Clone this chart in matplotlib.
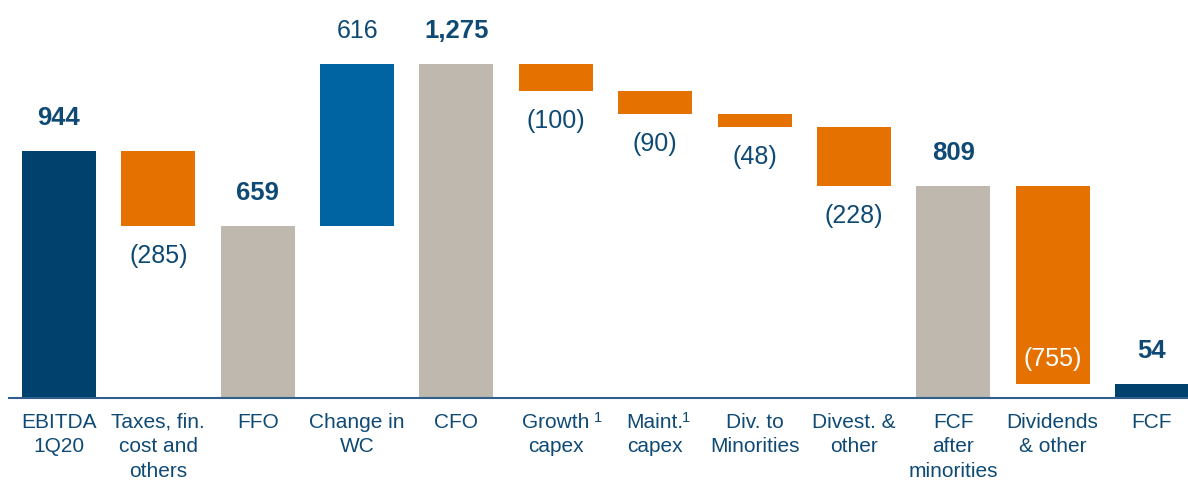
import matplotlib
matplotlib.use("Agg")
import matplotlib.pyplot as plt

categories = ["EBITDA\n1Q20", "Taxes, fin.\ncost and\nothers", "FFO", "Change in\nWC", "CFO",
              "Growth\ncapex", "Maint.\ncapex", "Div. to\nMinorities", "Divest. &\nother",
              "FCF\nafter\nminorities", "Dividends\n& other", "FCF"]
footnote_marks = {5: "1", 6: "1"}
values = [944, -285, 659, 616, 1275, -100, -90, -48, -228, 809, -755, 54]
kinds = ["total", "delta", "total", "delta", "total", "delta", "delta", "delta", "delta", "total", "delta", "total"]
value_labels = ["944", "(285)", "659", "616", "1,275", "(100)", "(90)", "(48)", "(228)", "809", "(755)", "54"]

NAVY = "#00426E"
ORANGE = "#E57200"
GRAY = "#BFB8AF"
BLUE = "#0064A3"
TEXT = "#0F4A75"

plt.rcParams['font.family'] = ['Liberation Sans', 'DejaVu Sans']

fig = plt.figure(figsize=(11.88, 4.80), dpi=100)
ax = fig.add_axes([9.3 / 1188, (480 - 398) / 480, (1188 - 9.3) / 1188, 398 / 480])

bottoms, heights, colors = [], [], []
running = 0
for i, (v, k) in enumerate(zip(values, kinds)):
    if k == "total":
        b, h = 0, v
        running = v
        c = NAVY if i in (0, len(values) - 1) else GRAY
    else:
        if v >= 0:
            b, h = running, v
            c = BLUE
        else:
            b, h = running + v, -v
            c = ORANGE
        running += v
    bottoms.append(b)
    heights.append(h)
    colors.append(c)

x = list(range(len(values)))
ax.bar(x, heights, bottom=bottoms, width=0.745, color=colors, linewidth=0, zorder=2)

for i, (v, k) in enumerate(zip(values, kinds)):
    top = bottoms[i] + heights[i]
    bot = bottoms[i]
    if k == "total":
        ax.annotate(value_labels[i], (i, top), xytext=(0, 15), textcoords="offset points",
                    ha="center", va="bottom", fontsize=18.5, fontweight="bold", color=TEXT)
    elif v >= 0:
        ax.annotate(value_labels[i], (i, top), xytext=(0, 15), textcoords="offset points",
                    ha="center", va="bottom", fontsize=18, color=TEXT)
    elif i == 10:
        ax.annotate(value_labels[i], (i, bot), xytext=(0, 9.5), textcoords="offset points",
                    ha="center", va="bottom", fontsize=18, color="white")
    else:
        ax.annotate(value_labels[i], (i, bot), xytext=(0, -13), textcoords="offset points",
                    ha="center", va="top", fontsize=18, color=TEXT)

# superscript footnote marks next to the first line of the category label
sup_dx = {5: 30.0, 6: 22.5}
for i, mark in footnote_marks.items():
    ax.annotate(mark, (i, 0), xytext=(sup_dx[i], -14.5), textcoords="offset points",
                ha="center", va="center", fontsize=10.5, color=TEXT, annotation_clip=False)

ax.set_xlim(-0.5, 11 + (1188 - 1152) / 99.36)
ax.set_ylim(0, 398 / 0.2617)
ax.set_xticks(x)
ax.set_xticklabels(categories, fontsize=15, color=TEXT, linespacing=1.39)
ax.tick_params(axis="x", length=0, pad=10.5)
ax.set_yticks([])
for s in ["top", "right", "left"]:
    ax.spines[s].set_visible(False)
ax.spines["bottom"].set_color("#2F5F8A")
ax.spines["bottom"].set_linewidth(1.5)
ax.patch.set_alpha(0)

fig.savefig("out.png", dpi=100)
